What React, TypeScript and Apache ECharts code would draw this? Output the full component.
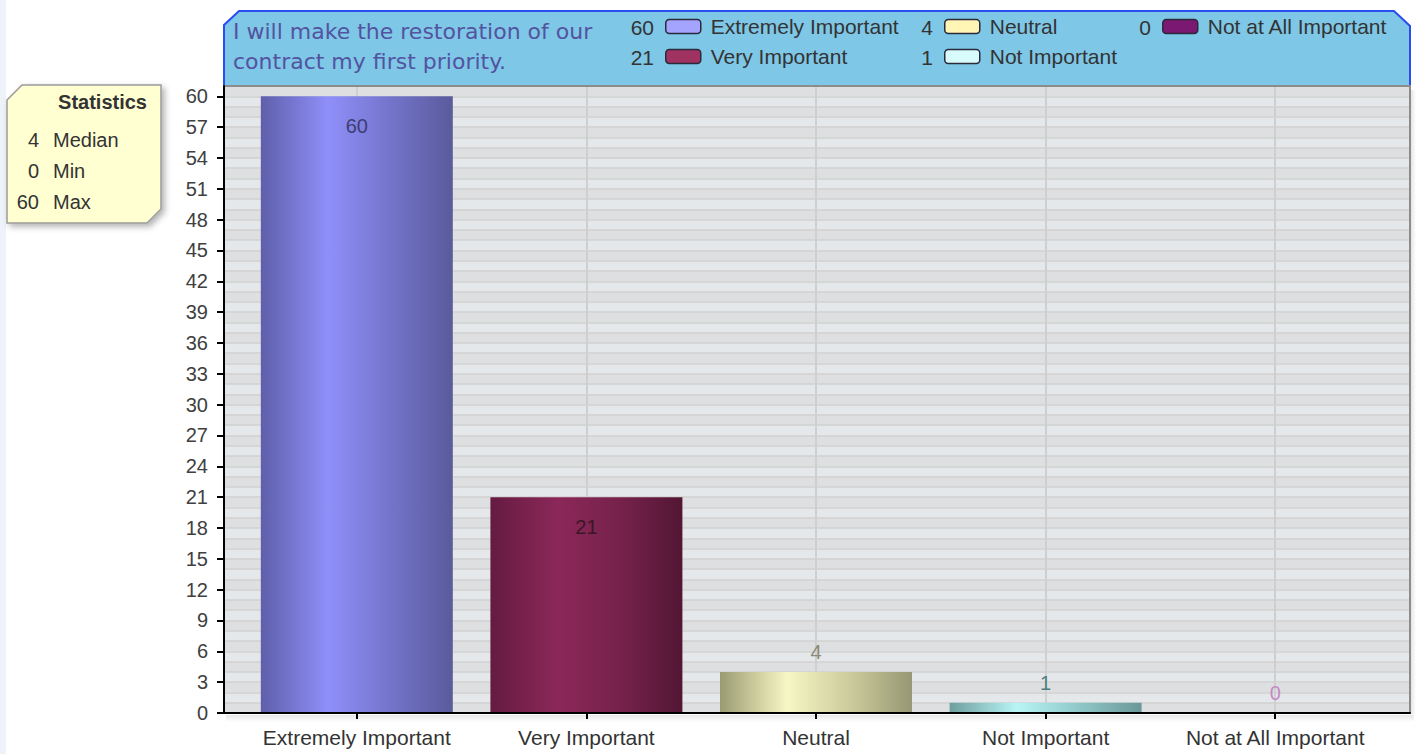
import React, { useEffect, useRef } from 'react';
import * as echarts from 'echarts';

// ---------- data ----------
const categories = ['Extremely Important', 'Very Important', 'Neutral', 'Not Important', 'Not at All Important'];
const values = [60, 21, 4, 1, 0];
const yTicks = [0, 3, 6, 9, 12, 15, 18, 21, 24, 27, 30, 33, 36, 39, 42, 45, 48, 51, 54, 57, 60];
const yMax = 61;
const statLabels = ['Median', 'Min', 'Max'];
const statValues = [4, 0, 60];
const titleLines = ['I will make the restoration of our', 'contract my first priority.'];
const statsTitle = 'Statistics';

// ---------- styles ----------
const FONT = '"Liberation Sans", Arial, sans-serif';
const barStops = [
  ['#5f5fab', '#8f8ff9', '#7272c8', '#5a5a9c'],
  ['#651b41', '#8b2859', '#74214a', '#521633'],
  ['#9b9b73', '#f7f7c4', '#c8c89a', '#979775'],
  ['#6e9e9e', '#b9f5f5', '#8cc4c4', '#6a9898'],
  ['#6a1a5c', '#8a2a7a', '#7a2068', '#5a1550'],
];
const legendIconColors = ['#a4a4ff', '#a03262', '#fff5b5', '#d8fbfb', '#7a1872'];
const labelColors = ['#3e3e72', '#3c1628', '#8a8a7a', '#4e7e7e', '#c48ac8'];
const labelPos = ['insideTop', 'insideTop', 'top', 'top', 'top'];
const labelDist = [20, 20, 10, 10, 10];
const legendCols = [[0, 1], [2, 3], [4]];
const legendX = [665, 944, 1162];
const legendRowY = [27, 57];

export default function App() {
  const ref = useRef<HTMLDivElement>(null);

  useEffect(() => {
    document.body.style.margin = '0';
    document.body.style.overflow = 'hidden';
    const chart = echarts.init(ref.current!, null, { renderer: 'svg' });

    const series = categories.map((name, i) => ({
      type: 'bar',
      name,
      xAxisIndex: 2,
      yAxisIndex: 2,
      stack: 'all',
      barWidth: 192,
      data: values.map((v, j) => (j === i ? v : '-')),
      itemStyle: {
        color: new echarts.graphic.LinearGradient(0, 0, 1, 0, [
          { offset: 0, color: barStops[i][0] },
          { offset: 0.35, color: barStops[i][1] },
          { offset: 0.7, color: barStops[i][2] },
          { offset: 1, color: barStops[i][3] },
        ]),
      },
      label: {
        show: true,
        position: labelPos[i],
        distance: labelDist[i],
        color: labelColors[i],
        fontSize: 20,
        fontFamily: FONT,
      },
      emphasis: { disabled: true },
    }));

    const legendNumbers: any[] = [];
    legendCols.forEach((col, k) => {
      col.forEach((ci, r) => {
        legendNumbers.push({
          type: 'text',
          x: legendX[k] - 11,
          y: legendRowY[r],
          z: 10,
          style: {
            text: String(values[ci]),
            align: 'right',
            verticalAlign: 'middle',
            fontSize: 21,
            fontFamily: FONT,
            fill: '#333333',
          },
        });
      });
    });

    const statTexts: any[] = [];
    statLabels.forEach((lab, i) => {
      const y = 140 + i * 31;
      statTexts.push({
        type: 'text', x: 39, y, z: 10,
        style: { text: String(statValues[i]), align: 'right', verticalAlign: 'middle', fontSize: 20, fontFamily: FONT, fill: '#333' },
      });
      statTexts.push({
        type: 'text', x: 53, y, z: 10,
        style: { text: lab, align: 'left', verticalAlign: 'middle', fontSize: 20, fontFamily: FONT, fill: '#333' },
      });
    });

    chart.setOption({
      animation: false,
      backgroundColor: '#ffffff',
      title: {
        text: titleLines.join('\n'),
        left: 233,
        top: 16,
        padding: 0,
        textStyle: {
          fontSize: 22,
          fontFamily: '"DejaVu Sans", sans-serif',
          fontWeight: 'normal',
          color: '#5353a0',
          lineHeight: 30,
        },
        z: 8,
      },
      legend: legendCols.map((col, k) => ({
        left: legendX[k],
        top: 16,
        orient: 'vertical',
        itemGap: 9,
        itemWidth: 35,
        itemHeight: 14,
        icon: 'roundRect',
        selectedMode: false,
        padding: 0,
        z: 8,
        data: col.map((i) => ({
          name: categories[i],
          itemStyle: { color: legendIconColors[i], borderColor: '#2a2a3a', borderWidth: 1.5 },
        })),
        textStyle: { fontSize: 21, color: '#333333', fontFamily: FONT, padding: [0, 0, 0, 5] },
      })),
      grid: [
        { left: 224, right: 9, top: 86, bottom: 41 },
        { left: 242, right: 29, top: 86, bottom: 41 },
      ],
      xAxis: [
        {
          gridIndex: 0, type: 'value', min: 0, max: 1, position: 'bottom', z: 10,
          axisLine: { show: true, onZero: false, lineStyle: { color: '#000000', width: 2 } },
          axisTick: { show: false }, axisLabel: { show: false }, splitLine: { show: false },
        },
        {
          gridIndex: 0, type: 'value', min: 0, max: 1, position: 'top', z: 3,
          axisLine: { show: true, onZero: false, lineStyle: { color: '#8c8c8c', width: 2 } },
          axisTick: { show: false }, axisLabel: { show: false }, splitLine: { show: false },
        },
        {
          gridIndex: 1, type: 'category', data: categories, position: 'bottom', z: 10,
          boundaryGap: true,
          axisLine: { show: false },
          axisTick: { show: true, alignWithLabel: true, length: 6, lineStyle: { color: '#000', width: 2 } },
          axisLabel: { show: true, interval: 0, fontSize: 21, color: '#333333', fontFamily: FONT, margin: 14 },
          splitLine: { show: false },
        },
        {
          gridIndex: 1, type: 'value', min: -0.5, max: categories.length - 0.5, position: 'top', z: 2,
          axisLine: { show: false },
          axisTick: { show: false, customValues: categories.map((_, i) => i) },
          axisLabel: { show: false },
          splitLine: { show: true, lineStyle: { color: '#cfcfcf', width: 2 } },
        },
      ],
      yAxis: [
        {
          gridIndex: 0, type: 'value', min: 0, max: yMax, position: 'left', z: 10,
          axisLine: { show: true, onZero: false, lineStyle: { color: '#000000', width: 2 } },
          axisTick: { show: true, length: 7, customValues: yTicks, lineStyle: { color: '#000', width: 2 } },
          axisLabel: { show: true, customValues: yTicks, fontSize: 20, color: '#404040', fontFamily: FONT, margin: 16 },
          splitLine: { show: false },
        },
        {
          gridIndex: 0, type: 'value', min: 0, max: yMax, interval: 1, position: 'right', z: 1,
          axisLine: { show: true, onZero: false, lineStyle: { color: '#8c8c8c', width: 2 } },
          axisTick: { show: false }, axisLabel: { show: false },
          splitLine: { show: true, lineStyle: { color: '#d0d0d0', width: 1.5 } },
          splitArea: { show: true, areaStyle: { color: ['#dedfe0', '#e5e8eb'] } },
        },
        {
          gridIndex: 1, type: 'value', min: 0, max: yMax, show: false,
        },
      ],
      series,
      graphic: [
        { type: 'rect', shape: { x: 0, y: 0, width: 6, height: 754 }, style: { fill: '#eef3fa' }, z: 0 },
        // header box
        {
          type: 'polygon', z: 1,
          shape: { points: [[224, 25], [239, 11], [1394, 11], [1410, 26], [1410, 85], [224, 85]] },
          style: { fill: '#7ec7e7' },
        },
        {
          type: 'polyline', z: 2,
          shape: { points: [[224, 85], [224, 25], [239, 11], [1394, 11], [1410, 26], [1410, 85]] },
          style: { stroke: '#2a4cf0', lineWidth: 2, fill: null },
        },
        // plot shadows
        {
          type: 'rect', z: 0,
          shape: { x: 226, y: 715, width: 1188, height: 7 },
          style: { fill: new echarts.graphic.LinearGradient(0, 0, 0, 1, [
            { offset: 0, color: 'rgba(0,0,0,0.10)' }, { offset: 1, color: 'rgba(0,0,0,0)' }]) },
        },
        {
          type: 'rect', z: 0,
          shape: { x: 1411, y: 90, width: 5, height: 624 },
          style: { fill: new echarts.graphic.LinearGradient(0, 0, 1, 0, [
            { offset: 0, color: 'rgba(0,0,0,0.10)' }, { offset: 1, color: 'rgba(0,0,0,0)' }]) },
        },
        // statistics box
        {
          type: 'polygon', z: 5,
          shape: { points: [[7, 100], [22, 85], [161, 85], [161, 209], [147, 223], [7, 223]] },
          style: {
            fill: '#ffffd2', stroke: '#9a9a9a', lineWidth: 1.5,
            shadowBlur: 6, shadowOffsetX: 3, shadowOffsetY: 3, shadowColor: 'rgba(0,0,0,0.3)',
          },
        },
        {
          type: 'line', z: 6,
          shape: { x1: 25, y1: 122, x2: 160, y2: 122 },
          style: {
            stroke: new echarts.graphic.LinearGradient(0, 0, 1, 0, [
              { offset: 0, color: 'rgba(120,120,100,0)' }, { offset: 0.4, color: 'rgba(120,120,100,0.8)' },
              { offset: 1, color: 'rgba(120,120,100,0.8)' }]),
            lineWidth: 1.5,
          },
        },
        {
          type: 'text', x: 147, y: 102, z: 10,
          style: { text: statsTitle, align: 'right', verticalAlign: 'middle', fontSize: 20, fontWeight: 'bold', fontFamily: FONT, fill: '#333' },
        },
        ...statTexts,
        ...legendNumbers,
      ],
    });

    return () => chart.dispose();
  }, []);

  return <div ref={ref} style={{ width: 1419, height: 754 }} />;
}
